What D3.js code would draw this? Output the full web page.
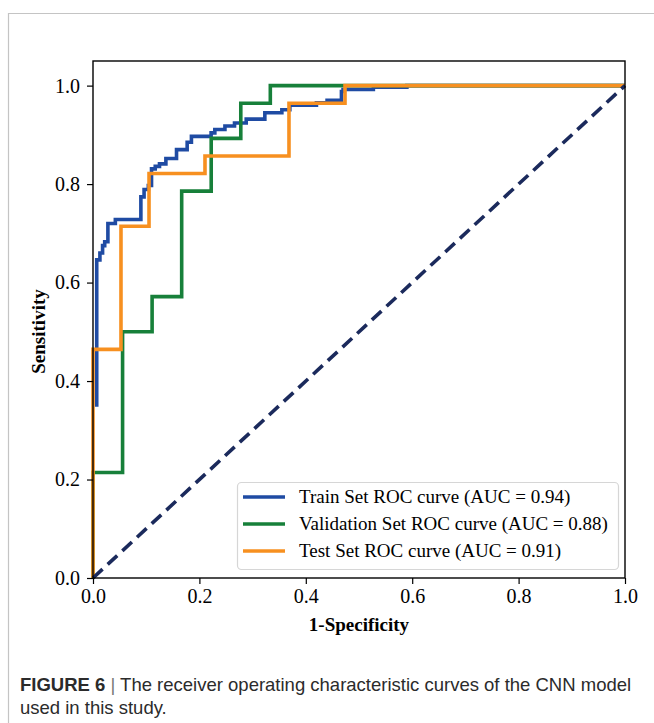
<!DOCTYPE html>
<html><head><meta charset="utf-8">
<script src="https://cdn.jsdelivr.net/npm/d3@7"></script>
<style>body{margin:0;background:#fff}svg{display:block}</style>
</head><body>
<script>
const trainFpr = [0.007,0.007,0.013,0.013,0.018,0.018,0.022,0.022,0.028,0.028,0.042,0.042,0.090,0.090,0.096,0.096,0.104,0.104,0.110,0.110,0.117,0.117,0.125,0.125,0.137,0.137,0.157,0.157,0.177,0.177,0.185,0.185,0.222,0.222,0.229,0.229,0.248,0.248,0.266,0.266,0.288,0.288,0.323,0.323,0.355,0.355,0.370,0.370,0.420,0.420,0.440,0.440,0.467,0.467,0.470,0.470,0.527,0.527,0.590,0.590,1.0];
const trainTpr = [0.348,0.646,0.646,0.660,0.660,0.675,0.675,0.683,0.683,0.720,0.720,0.728,0.728,0.774,0.774,0.789,0.789,0.797,0.797,0.831,0.831,0.836,0.836,0.841,0.841,0.852,0.852,0.870,0.870,0.885,0.885,0.897,0.897,0.904,0.904,0.911,0.911,0.918,0.918,0.924,0.924,0.932,0.932,0.945,0.945,0.951,0.951,0.960,0.960,0.965,0.965,0.970,0.970,0.988,0.988,0.992,0.992,0.997,0.997,1.0,1.0];
const valFpr = [0,0,0.0556,0.0556,0.1111,0.1111,0.1667,0.1667,0.2222,0.2222,0.2778,0.2778,0.3333,0.3333,1.0];
const valTpr = [0,0.2143,0.2143,0.5,0.5,0.5714,0.5714,0.7857,0.7857,0.8929,0.8929,0.9643,0.9643,1.0,1.0];
const testFpr = [0,0,0.0526,0.0526,0.1053,0.1053,0.2105,0.2105,0.3684,0.3684,0.4737,0.4737,1.0];
const testTpr = [0,0.4643,0.4643,0.7143,0.7143,0.8214,0.8214,0.8571,0.8571,0.9643,0.9643,1.0,1.0];
const seriesNames = ["Train Set ROC curve (AUC = 0.94)","Validation Set ROC curve (AUC = 0.88)","Test Set ROC curve (AUC = 0.91)"];
const seriesColors = ["#1f4ba3","#17803a","#f79020"];
const tickValues = [0,0.2,0.4,0.6,0.8,1.0];

const W=654,H=723;
const svg=d3.select("body").append("svg").attr("width",W).attr("height",H);
svg.append("rect").attr("width",W).attr("height",H).attr("fill","#fff");
// figure border
svg.append("path").attr("d","M8.5,723 V13.5 H654").attr("fill","none").attr("stroke","#c4c4c4").attr("stroke-width",1.2);

const L=93,R=625,T=61,B=578;
const x=d3.scaleLinear().domain([0,1]).range([L,R]);
const y=d3.scaleLinear().domain([0,1.05]).range([B,T]);
const serif="'Liberation Serif','Times New Roman',serif";

const line=d3.line().x(d=>x(d[0])).y(d=>y(d[1]));
const series=[[trainFpr,trainTpr],[valFpr,valTpr],[testFpr,testTpr]];
series.forEach((s,i)=>{
  const pts=s[0].map((v,j)=>[v,s[1][j]]);
  svg.append("path").datum(pts).attr("d",line).attr("fill","none")
    .attr("stroke",seriesColors[i]).attr("stroke-width",3.6).attr("stroke-linejoin","miter").attr("stroke-linecap","butt");
});
svg.append("path").datum([[0,0],[1,1]]).attr("d",line).attr("fill","none")
  .attr("stroke","#1b2a5c").attr("stroke-width",3.6).attr("stroke-dasharray","13,7");

// axes
const xa=svg.append("g").attr("transform",`translate(0,${B})`)
  .call(d3.axisBottom(x).tickValues(tickValues).tickFormat(d3.format(".1f")).tickSize(6).tickSizeOuter(0).tickPadding(5));
const ya=svg.append("g").attr("transform",`translate(${L},0)`)
  .call(d3.axisLeft(y).tickValues(tickValues).tickFormat(d3.format(".1f")).tickSize(6).tickSizeOuter(0).tickPadding(7));
[xa,ya].forEach(a=>{
  a.select(".domain").remove();
  a.selectAll("line").attr("stroke","#000").attr("stroke-width",1.2);
  a.selectAll("text").attr("font-family",serif).attr("font-size",20).attr("fill","#000");
});
svg.append("rect").attr("x",L).attr("y",T).attr("width",R-L).attr("height",B-T)
  .attr("fill","none").attr("stroke","#000").attr("stroke-width",1.4);

svg.append("text").attr("x",(L+R)/2).attr("y",631).attr("text-anchor","middle")
  .attr("font-family",serif).attr("font-weight","bold").attr("font-size",19).text("1-Specificity");
svg.append("text").attr("transform",`translate(45,${(T+B)/2+12}) rotate(-90)`).attr("text-anchor","middle")
  .attr("font-family",serif).attr("font-weight","bold").attr("font-size",19).text("Sensitivity");

// legend
const lg=svg.append("g");
lg.append("rect").attr("x",237.5).attr("y",482.5).attr("width",381).attr("height",87).attr("rx",4)
  .attr("fill","#fff").attr("fill-opacity",0.85).attr("stroke","#d6d6d6").attr("stroke-width",1.2);
seriesNames.forEach((n,i)=>{
  const yy=497+i*27;
  lg.append("line").attr("x1",243).attr("x2",285).attr("y1",yy).attr("y2",yy)
    .attr("stroke",seriesColors[i]).attr("stroke-width",3.6);
  lg.append("text").attr("x",299).attr("y",yy+6).attr("font-family",serif).attr("font-size",19).text(n);
});

// caption
const sans="'Liberation Sans',Arial,sans-serif";
const cap=svg.append("text").attr("x",20).attr("y",691).attr("font-family",sans).attr("font-size",18.5).attr("fill","#2b2b2b");
cap.append("tspan").attr("font-weight","bold").text("FIGURE 6");
cap.append("tspan").attr("fill","#777").text(" | ");
cap.append("tspan").text("The receiver operating characteristic curves of the CNN model");
svg.append("text").attr("x",20).attr("y",714).attr("font-family",sans).attr("font-size",18.5).attr("fill","#2b2b2b")
  .text("used in this study.");
</script>
</body></html>
